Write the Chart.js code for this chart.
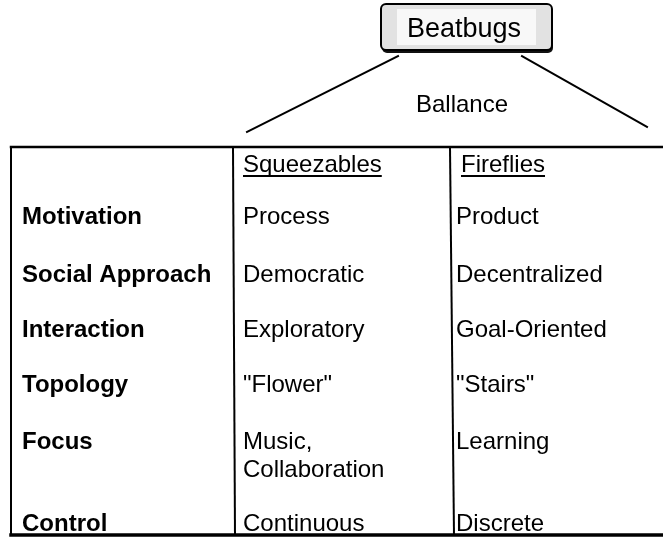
<!DOCTYPE html>
<html>
<head>
<meta charset="utf-8">
<script src="https://cdn.jsdelivr.net/npm/chart.js@4/dist/chart.umd.min.js"></script>
<style>
  html, body { margin: 0; padding: 0; background: #ffffff; }
  #wrap { width: 663px; height: 541px; position: relative; }
</style>
</head>
<body>
<div id="wrap"><canvas id="c" width="663" height="541"></canvas></div>
<script>
// ---- content (data) ----
const rootLabel = 'Beatbugs';
const edgeLabel = 'Ballance';
const columnHeaders = ['Squeezables', 'Fireflies'];
const rowLabels = ['Motivation', 'Social Approach', 'Interaction', 'Topology', 'Focus', 'Control'];
const squeezables = ['Process', 'Democratic', 'Exploratory', '"Flower"', ['Music,', 'Collaboration'], 'Continuous'];
const fireflies = ['Product', 'Decentralized', 'Goal-Oriented', '"Stairs"', 'Learning', 'Discrete'];

// ---- layout (diagram geometry in scale units) ----
const layout = {
  width: 663, height: 541,
  tableTop: 147, tableBottom: 535, tableLeft: 11, tableRight: 663,
  colDividers: [[233, 235], [450, 454]],
  colTextX: [22, 243, 456],
  headerX: [243, 461],
  headerBaseline: 172,
  rowBaselines: [224, 282, 337, 392, 449, 531],
  lineGap: 28,
  box: { x0: 381, x1: 552, y0: 4, y1: 50 },
  rootCenterX: 464, rootBaseline: 37,
  edgeCenterX: 462, edgeBaseline: 112,
  edges: [[[398, 56], [247, 132]], [[522, 56], [647, 127]]]
};

function seg(a, b) { return [{ x: a[0], y: a[1] }, { x: b[0], y: b[1] }]; }
function lineDS(points, width) {
  return {
    type: 'line', data: points, showLine: true, borderColor: '#000', borderWidth: width,
    pointRadius: 0, fill: false, tension: 0, borderCapStyle: 'square'
  };
}

const L = layout;
const datasets = [
  lineDS(seg([L.tableLeft, L.tableTop], [L.tableRight, L.tableTop]), 2.5),
  lineDS(seg([L.tableLeft, L.tableTop], [L.tableLeft, L.tableBottom]), 2),
  lineDS(seg([L.tableLeft, L.tableBottom], [L.tableRight, L.tableBottom]), 3.5),
  lineDS(seg([L.colDividers[0][0], L.tableTop], [L.colDividers[0][1], L.tableBottom]), 2),
  lineDS(seg([L.colDividers[1][0], L.tableTop], [L.colDividers[1][1], L.tableBottom]), 2),
  lineDS(seg(L.edges[0][0], L.edges[0][1]), 2),
  lineDS(seg(L.edges[1][0], L.edges[1][1]), 2)
];

const FONT = '"Liberation Sans", Arial, Helvetica, sans-serif';

const diagramPlugin = {
  id: 'diagram',
  beforeDatasetsDraw(chart) {
    const ctx = chart.ctx;
    const xs = chart.scales.x, ys = chart.scales.y;
    const px = v => xs.getPixelForValue(v);
    const py = v => ys.getPixelForValue(v);
    const b = L.box;
    ctx.save();
    // box shadow at bottom
    ctx.fillStyle = '#111';
    ctx.beginPath();
    ctx.roundRect(px(b.x0) + 1, py(b.y0) + 3, px(b.x1) - px(b.x0), py(b.y1) - py(b.y0), 5);
    ctx.fill();
    // box
    ctx.fillStyle = '#e2e2e2';
    ctx.strokeStyle = '#000';
    ctx.lineWidth = 2;
    ctx.beginPath();
    ctx.roundRect(px(b.x0), py(b.y0), px(b.x1) - px(b.x0), py(b.y1) - py(b.y0), 5);
    ctx.fill();
    ctx.stroke();
    // inner lighter label area
    ctx.fillStyle = '#f8f8f8';
    ctx.fillRect(px(b.x0) + 16, py(b.y0) + 5, px(b.x1) - px(b.x0) - 32, py(b.y1) - py(b.y0) - 10);
    ctx.restore();
  },
  afterDatasetsDraw(chart) {
    const ctx = chart.ctx;
    const xs = chart.scales.x, ys = chart.scales.y;
    const px = v => xs.getPixelForValue(v);
    const py = v => ys.getPixelForValue(v);
    ctx.save();
    ctx.fillStyle = '#000';
    ctx.textBaseline = 'alphabetic';

    // root label
    ctx.font = '27px ' + FONT;
    ctx.textAlign = 'center';
    ctx.fillText(rootLabel, px(L.rootCenterX), py(L.rootBaseline));
    // edge label
    ctx.font = '24px ' + FONT;
    ctx.fillText(edgeLabel, px(L.edgeCenterX), py(L.edgeBaseline));

    // column headers underlined
    ctx.textAlign = 'left';
    ctx.font = '24px ' + FONT;
    columnHeaders.forEach((h, i) => {
      const x = px(L.headerX[i]), y = py(L.headerBaseline);
      ctx.fillText(h, x, y);
      const w = ctx.measureText(h).width;
      ctx.fillRect(x, y + 3, w, 2);
    });

    // row labels
    ctx.font = 'bold 24px ' + FONT;
    rowLabels.forEach((r, i) => ctx.fillText(r, px(L.colTextX[0]), py(L.rowBaselines[i])));

    // cells
    ctx.font = '24px ' + FONT;
    [squeezables, fireflies].forEach((col, ci) => {
      col.forEach((cell, ri) => {
        const lines = Array.isArray(cell) ? cell : [cell];
        lines.forEach((t, li) => ctx.fillText(t, px(L.colTextX[ci + 1]), py(L.rowBaselines[ri] + li * L.lineGap)));
      });
    });
    ctx.restore();
  }
};

new Chart(document.getElementById('c'), {
  type: 'scatter',
  data: { datasets },
  options: {
    responsive: false,
    animation: false,
    layout: { padding: 0 },
    plugins: { legend: { display: false }, tooltip: { enabled: false } },
    scales: {
      x: { type: 'linear', min: 0, max: L.width, display: false },
      y: { type: 'linear', min: 0, max: L.height, reverse: true, display: false }
    }
  },
  plugins: [diagramPlugin]
});
</script>
</body>
</html>
